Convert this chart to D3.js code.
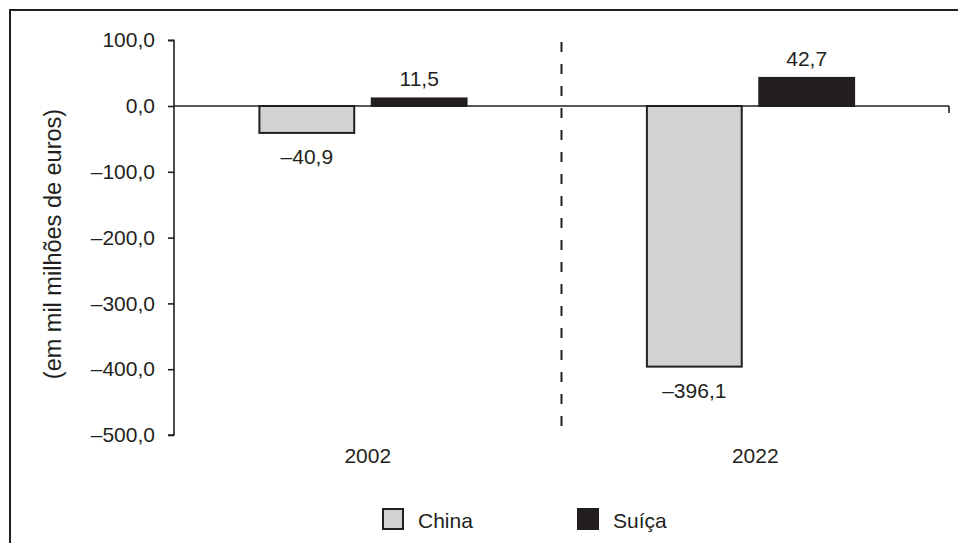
<!DOCTYPE html>
<html>
<head>
<meta charset="utf-8">
<script src="https://cdn.jsdelivr.net/npm/d3@7"></script>
<style>
  html, body { margin: 0; padding: 0; background: #fff; }
  svg { display: block; }
  text { font-family: "Liberation Sans", Arial, Helvetica, sans-serif; fill: #231f20; }
</style>
</head>
<body>
<svg id="chart" width="958" height="543"></svg>
<script>
// Saldo da balança comercial da UE com a China e a Suíça (mil milhões de euros)
const years = ["2002", "2022"];
const partners = ["China", "Suíça"];
const china = [-40.9, -396.1];
const suica = [11.5, 42.7];
const yTicks = [100, 0, -100, -200, -300, -400, -500];
const yTitle = "(em mil milhões de euros)";

const colors = { "China": "#d1d2d4", "Suíça": "#231f20" };
const ink = "#231f20";
const fontSize = 21;

const svg = d3.select("#chart");
const plotLeft = 174, plotRight = 949, plotTop = 40.2, plotBottom = 435;

const fmt = v => {
  const s = Math.abs(v).toFixed(1).replace(".", ",");
  return (v < 0 ? "\u2013" : "") + s;
};

const y = d3.scaleLinear().domain([-500, 100]).range([plotBottom, plotTop]);
const x0 = d3.scaleBand().domain(years).range([plotLeft, plotRight]).padding(0);
const x1 = d3.scaleBand().domain(partners).range([0, x0.bandwidth() - 9.5])
  .paddingInner(0.156).paddingOuter(0.76);

const rows = years.map((yr, i) => ({ year: yr, values: [
  { key: "China", value: china[i] },
  { key: "Suíça", value: suica[i] }
]}));

// Outer frame
svg.append("rect")
  .attr("x", 10).attr("y", 10).attr("width", 960).attr("height", 560)
  .attr("fill", "none").attr("stroke", ink).attr("stroke-width", 2);

// Y axis
const yAxis = svg.append("g")
  .attr("transform", `translate(${plotLeft},0)`)
  .call(d3.axisLeft(y).tickValues(yTicks).tickSize(6).tickPadding(13).tickFormat(fmt));
yAxis.select(".domain").attr("stroke", ink).attr("stroke-width", 1.6)
  .attr("d", `M-6,${y(100)}H0V${y(-500)}H-6`);
yAxis.selectAll(".tick line").attr("stroke", ink).attr("stroke-width", 1.6);
yAxis.selectAll(".tick text")
  .style("font-family", "'Liberation Sans', Arial, sans-serif")
  .attr("font-size", fontSize).attr("fill", ink);

// Divider between years
svg.append("line")
  .attr("x1", x0("2022")).attr("x2", x0("2022"))
  .attr("y1", 42).attr("y2", 437)
  .attr("stroke", ink).attr("stroke-width", 2)
  .attr("stroke-dasharray", "10 12");

// Bars
const groups = svg.selectAll("g.year").data(rows).join("g")
  .attr("class", "year")
  .attr("transform", d => `translate(${x0(d.year)},0)`);

groups.selectAll("rect").data(d => d.values).join("rect")
  .attr("x", d => x1(d.key))
  .attr("width", x1.bandwidth())
  .attr("y", d => y(Math.max(0, d.value)))
  .attr("height", d => Math.abs(y(d.value) - y(0)))
  .attr("fill", d => colors[d.key])
  .attr("stroke", ink).attr("stroke-width", 2);

groups.selectAll("text.val").data(d => d.values).join("text")
  .attr("class", "val")
  .attr("x", d => x1(d.key) + x1.bandwidth() / 2)
  .attr("y", d => d.value >= 0 ? y(d.value) - 12 : y(d.value) + 31)
  .attr("text-anchor", "middle")
  .attr("font-size", fontSize)
  .text(d => fmt(d.value));

// X axis at zero
svg.append("line")
  .attr("x1", plotLeft).attr("x2", plotRight)
  .attr("y1", y(0)).attr("y2", y(0))
  .attr("stroke", ink).attr("stroke-width", 1.6);
svg.append("line")
  .attr("x1", plotRight).attr("x2", plotRight)
  .attr("y1", y(0)).attr("y2", y(0) + 7)
  .attr("stroke", ink).attr("stroke-width", 1.6);

// Year labels
svg.selectAll("text.yearlabel").data(years).join("text")
  .attr("class", "yearlabel")
  .attr("x", d => x0(d) + x0.bandwidth() / 2)
  .attr("y", 463)
  .attr("text-anchor", "middle")
  .attr("font-size", fontSize)
  .text(d => d);

// Y axis title
svg.append("text")
  .attr("transform", `translate(61,${244}) rotate(-90)`)
  .attr("text-anchor", "middle")
  .attr("font-size", 23.5)
  .text(yTitle);

// Legend
const legendX = [382, 577];
const legend = svg.selectAll("g.legend").data(partners).join("g")
  .attr("class", "legend")
  .attr("transform", (d, i) => `translate(${legendX[i]},508)`);
legend.append("rect")
  .attr("x", 1).attr("y", 1).attr("width", 20).attr("height", 20)
  .attr("fill", d => colors[d]).attr("stroke", ink).attr("stroke-width", 2);
legend.append("text")
  .attr("x", 36).attr("y", 20)
  .attr("font-size", fontSize)
  .text(d => d);
</script>
</body>
</html>
